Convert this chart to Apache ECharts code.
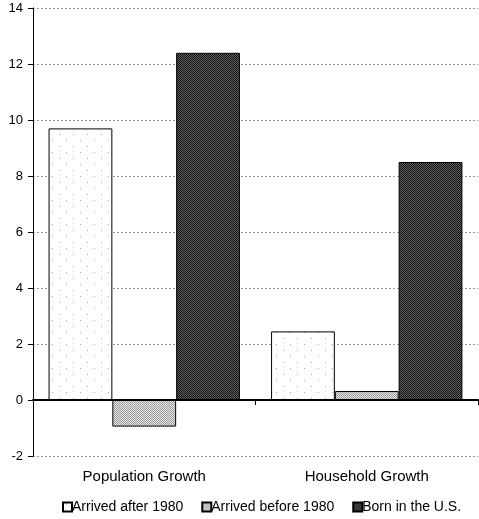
<!DOCTYPE html>
<html>
<head>
<meta charset="utf-8">
<script src="https://cdn.jsdelivr.net/npm/echarts@6/dist/echarts.min.js"></script>
<style>
  html, body { margin: 0; padding: 0; background: #fff; }
  #chart { width: 479px; height: 519px; }
</style>
</head>
<body>
<div id="chart"></div>
<script>
var categories = ['Population Growth', 'Household Growth'];
var seriesNames = ['Arrived after 1980', 'Arrived before 1980', 'Born in the U.S.'];
var arrivedAfter = [9.7, 2.45];
var arrivedBefore = [-0.95, 0.32];
var bornUS = [12.4, 8.5];
var yTicks = [-2, 0, 2, 4, 6, 8, 10, 12, 14];

// small dither textures to look like the old printed fills
function makePattern(base, dots, step) {
    var c = document.createElement('canvas');
    c.width = step; c.height = step;
    var ctx = c.getContext('2d');
    ctx.fillStyle = base;
    ctx.fillRect(0, 0, step, step);
    ctx.fillStyle = dots;
    for (var x = 0; x < step; x++) {
        for (var y = 0; y < step; y++) {
            if ((x + y) % 2 === 0) ctx.fillRect(x, y, 1, 1);
        }
    }
    return c;
}
function sparseDots() {
    var c = document.createElement('canvas');
    c.width = 14; c.height = 12;
    var ctx = c.getContext('2d');
    ctx.fillStyle = '#fff';
    ctx.fillRect(0, 0, 14, 12);
    ctx.fillStyle = '#aaa';
    ctx.fillRect(3, 2, 1, 1);
    ctx.fillRect(10, 8, 1, 1);
    return c;
}

var fillAfter = { image: sparseDots(), repeat: 'repeat' };
var fillBefore = { image: makePattern('#e8e8e8', '#9a9a9a', 4), repeat: 'repeat' };
var fillBorn = { image: makePattern('#5e5e5e', '#141414', 4), repeat: 'repeat' };

var myChart = echarts.init(document.getElementById('chart'));
var font = 'Liberation Sans, Arial, sans-serif';

function bar(name, data, fill) {
    return {
        name: name,
        type: 'bar',
        data: data,
        barGap: '0%',
        barCategoryGap: '14%',
        itemStyle: { color: fill, borderColor: '#000', borderWidth: 1 }
    };
}

var option = {
    animation: false,
    backgroundColor: '#fff',
    grid: { left: 33, right: 1, top: 8, bottom: 63, containLabel: false, outerBoundsMode: 'none' },
    legend: {
        bottom: 0,
        left: 57,
        icon: 'rect',
        itemWidth: 9,
        itemHeight: 9,
        itemGap: 18,
        textStyle: { fontFamily: font, fontSize: 14, color: '#000', padding: [0, 0, 0, -5] },
        data: seriesNames
    },
    xAxis: [{
        // zero line with the category boundary ticks
        type: 'category',
        data: categories,
        axisLine: { onZero: true, lineStyle: { color: '#000', width: 2 } },
        axisTick: { show: true, length: 5, lineStyle: { color: '#000' } },
        axisLabel: { show: false }
    }, {
        // category names along the bottom edge
        type: 'category',
        data: categories,
        position: 'bottom',
        axisLine: { show: false, onZero: false },
        axisTick: { show: false },
        axisLabel: { margin: 13, fontFamily: font, fontSize: 15, color: '#000' }
    }],
    yAxis: {
        type: 'value',
        min: -2,
        max: 14,
        interval: 2,
        axisLine: { show: true, lineStyle: { color: '#000', width: 1 } },
        axisTick: { show: true, length: 5, lineStyle: { color: '#000' } },
        axisLabel: {
            margin: 10, fontFamily: font, fontSize: 13, color: '#000',
            formatter: function (v) { return yTicks.indexOf(v) >= 0 ? String(v) : ''; }
        },
        splitLine: { show: true, lineStyle: { color: '#999', type: [2, 2], width: 1 } }
    },
    series: [
        bar(seriesNames[0], arrivedAfter, fillAfter),
        bar(seriesNames[1], arrivedBefore, fillBefore),
        bar(seriesNames[2], bornUS, fillBorn)
    ]
};
myChart.setOption(option);
</script>
</body>
</html>
